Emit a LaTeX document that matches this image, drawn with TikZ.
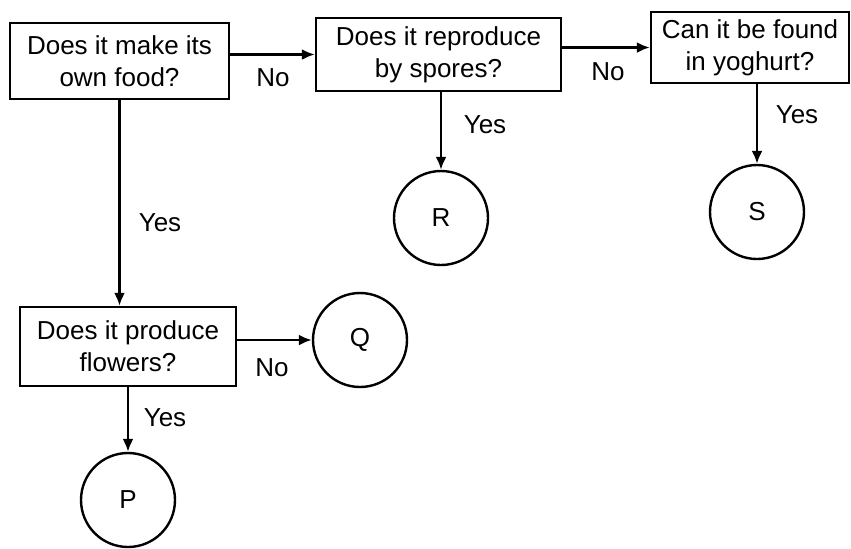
\documentclass[tikz,border=0pt]{standalone}
\usepackage{fontspec}
\setmainfont{Liberation Sans}
\usetikzlibrary{arrows.meta}
\tikzset{
  question/.style={draw, line width=1.2pt, align=center, inner sep=0pt,
    font=\fontsize{13}{16}\selectfont},
  leaf/.style={draw, circle, line width=1.2pt, minimum size=47pt, inner sep=0pt,
    font=\fontsize{13}{15}\selectfont},
  answer/.style={font=\fontsize{13}{15}\selectfont},
  link/.style={-{Latex[length=6.5pt,width=5.5pt]}, line width=1.2pt}
}
\begin{document}
\begin{tikzpicture}[x=0.5pt, y=-0.5pt]
  \useasboundingbox (0,0) rectangle (851,548);
  % questions
  \node [question, minimum width=109.5pt, minimum height=38pt] (food) at (119.5,61) {Does it make its\\own food?};
  \node [question, minimum width=122.5pt, minimum height=36.5pt] (spores) at (438.5,54.5) {Does it reproduce\\by spores?};
  \node [question, minimum width=99pt, minimum height=35.5pt] (yoghurt) at (750,47.5) {Can it be found\\in yoghurt?};
  \node [question, minimum width=108pt, minimum height=39.5pt] (flowers) at (128,346.5) {Does it produce\\flowers?};
  % organisms
  \node [leaf] (R) at (441,218) {R};
  \node [leaf] (S) at (757,212) {S};
  \node [leaf] (Q) at (360,340) {Q};
  \node [leaf] (P) at (128,500) {P};
  % arrows
  \draw [link] (food.east |- spores.west) -- (spores.west);
  \draw [link] (spores.east |- yoghurt.west) -- (yoghurt.west);
  \draw [link] (food.south) -- (food.south |- flowers.north);
  \draw [link] (spores.south -| R.north) -- (R.north);
  \draw [link] (yoghurt.south -| S.north) -- (S.north);
  \draw [link] (flowers.east |- Q.west) -- (Q.west);
  \draw [link] (flowers.south) -- (P.north);
  % answers
  \node [answer] (no1) at (273,78) {No};
  \node [answer] (no2) at (608,72) {No};
  \node [answer] (no3) at (272,368) {No};
  \node [answer] (yes1) at (160,223) {Yes};
  \node [answer] (yes2) at (485,125) {Yes};
  \node [answer] (yes3) at (797,115) {Yes};
  \node [answer] (yes4) at (165,418) {Yes};
\end{tikzpicture}
\end{document}
